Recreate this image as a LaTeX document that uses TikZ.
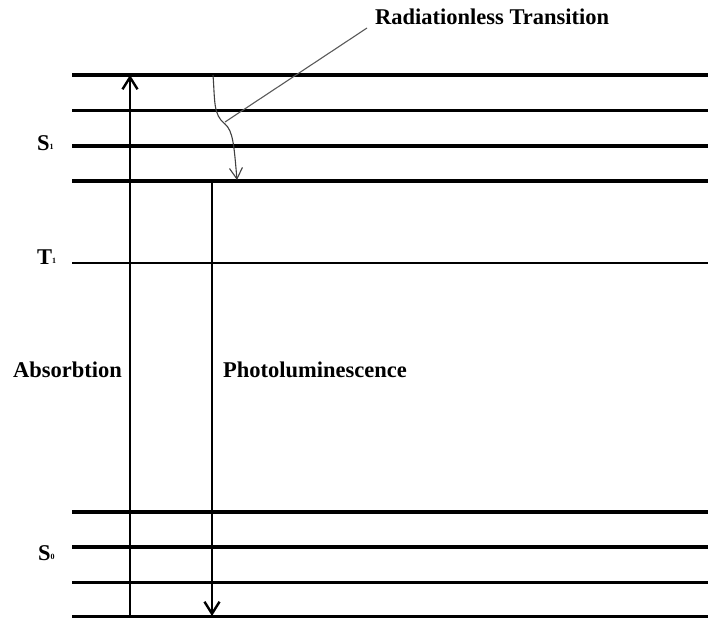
\documentclass[tikz,border=0pt]{standalone}
\usepackage{fontspec}
\setmainfont{Liberation Serif}
\usetikzlibrary{arrows.meta}
\begin{document}
\begin{tikzpicture}[x=1pt,y=-1pt,
  level/.style={line width=3.2pt},
  tlevel/.style={line width=2pt},
  trans/.style={line width=2.4pt,-{Straight Barb[length=12pt,width=15pt,line width=2.4pt]}},
  wavy/.style={line width=1.1pt,draw=black!75,-{Straight Barb[length=11pt,width=13pt,line width=1.1pt]}},
  leader/.style={line width=1.1pt,draw=black!65},
  lbl/.style={inner sep=0pt,anchor=base west,font=\bfseries\fontsize{22.5}{27}\selectfont},
  sub/.style={}]
\newcommand{\smallsub}[1]{\raisebox{0.5pt}{\fontsize{8}{9}\selectfont #1}}
\useasboundingbox (0,0) rectangle (708,618);
% level coordinates
\foreach \n/\y in {a/75,b/110.5,c/146,d/181,t/262.5,e/512,f/547,g/582.3,h/616.7}{
  \coordinate (L\n) at (72,\y);
  \coordinate (R\n) at (708,\y);
}
\foreach \n in {a,b,c,d,e,f,g,h}{\draw[level] (L\n) -- (R\n);}
\draw[tlevel] (Lt) -- (Rt);
% arrows
\coordinate (absB) at (130,616.7);
\coordinate (absT) at (130,75);
\draw[trans] (absB) -- (absT);
\coordinate (plT) at (212,181);
\coordinate (plB) at (212,616);
\draw[trans] (plT) -- (plB);
% radiationless
\coordinate (rlS) at (213,75);
\coordinate (rlM) at (225,124);
\coordinate (rlE) at (237,180);
\draw[wavy] (rlS) .. controls (215,100) and (213,115) .. (rlM) .. controls (233,131) and (234,145) .. (rlE);
\coordinate (ldA) at (225,122);
\coordinate (ldB) at (367,28);
\draw[leader] (ldA) -- (ldB);
% labels
\node[lbl] (rad) at (375,25) {Radiationless Transition};
\node[lbl] (s1) at (37,150) {S\smallsub{1}};
\node[lbl] (t1) at (37,264) {T\smallsub{1}};
\node[lbl] (s0) at (38,560) {S\smallsub{0}};
\node[lbl] (abs) at (13,377) {Absorbtion};
\node[lbl] (pl) at (223,377) {Photoluminescence};
\end{tikzpicture}
\end{document}
